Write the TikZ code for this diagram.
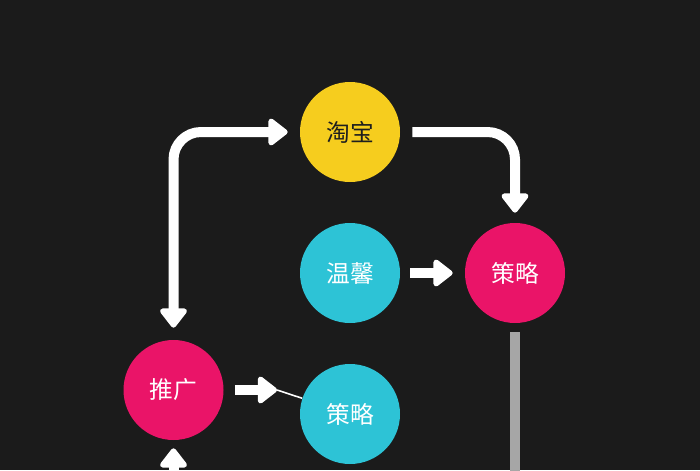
\documentclass[tikz,border=0pt]{standalone}
\usepackage{fontspec}
\usepackage{xcolor}
\usepackage{tikz}
\usetikzlibrary{arrows.meta, positioning, calc}
\newfontfamily\cjk{Noto Sans CJK SC}
\definecolor{bgdark}{RGB}{27,27,27}
\definecolor{myyellow}{RGB}{246,205,30}
\definecolor{mypink}{RGB}{234,20,104}
\definecolor{mycyan}{RGB}{45,195,214}
\definecolor{mygray}{RGB}{166,166,166}
\definecolor{textdark}{RGB}{30,30,30}
\tikzset{
  yellowdot/.style={circle, fill=myyellow, minimum size=2.0cm, inner sep=0pt,
    text=textdark, font=\cjk\fontsize{13.5}{16}\selectfont},
  pinkdot/.style={circle, fill=mypink, minimum size=2.0cm, inner sep=0pt,
    text=white, font=\cjk\fontsize{13.5}{16}\selectfont},
  cyandot/.style={circle, fill=mycyan, minimum size=2.0cm, inner sep=0pt,
    text=white, font=\cjk\fontsize{13.5}{16}\selectfont},
  fattip/.tip={Triangle[length=0.42cm, width=0.62cm, round]},
  fatarrow/.style={-fattip, white, line width=0.2cm, rounded corners=0.55cm},
  fatboth/.style={fattip-fattip, white, line width=0.2cm, rounded corners=0.55cm},
  thinline/.style={white, line width=0.9pt},
  bar/.style={mygray, line width=0.2cm}
}

\begin{document}
\begin{tikzpicture}
  % Background
  \fill[bgdark] (0,0) rectangle (14,9.4);
  \useasboundingbox (0,0) rectangle (14,9.4);
  \clip (0,0) rectangle (14,9.4);

  % Nodes
  \node[yellowdot] (taobao) at (7.0,6.76) {淘宝};
  \node[pinkdot] (celueR) at (10.3,3.94) {策略};
  \node[cyandot] (wenxin) at (7.0,3.94) {温馨};
  \node[pinkdot] (tuiguang) at (3.47,1.6) {推广};
  \node[cyandot] (celueL) at (7.0,1.12) {策略};

  % Free ends
  \coordinate (tip) at (5.54,1.6);
  \coordinate (below) at (3.47,-0.5);
  \coordinate (barend) at (10.3,-0.5);

  % Connectors
  \draw[fatboth, shorten <=0.24cm, shorten >=0.24cm] (tuiguang) |- (taobao);
  \draw[fatarrow, shorten <=0.24cm, shorten >=0.2cm] (taobao) -| (celueR);
  \draw[fatarrow, shorten <=0.2cm, shorten >=0.24cm] (wenxin) -- (celueR);
  \draw[fatarrow, shorten <=0.22cm] (tuiguang) -- (tip);
  \draw[thinline] (tip) -- (celueL);
  \draw[fatarrow, shorten >=0.16cm] (below) -- (tuiguang);
  \draw[bar, shorten <=0.18cm] (celueR) -- (barend);
\end{tikzpicture}
\end{document}
